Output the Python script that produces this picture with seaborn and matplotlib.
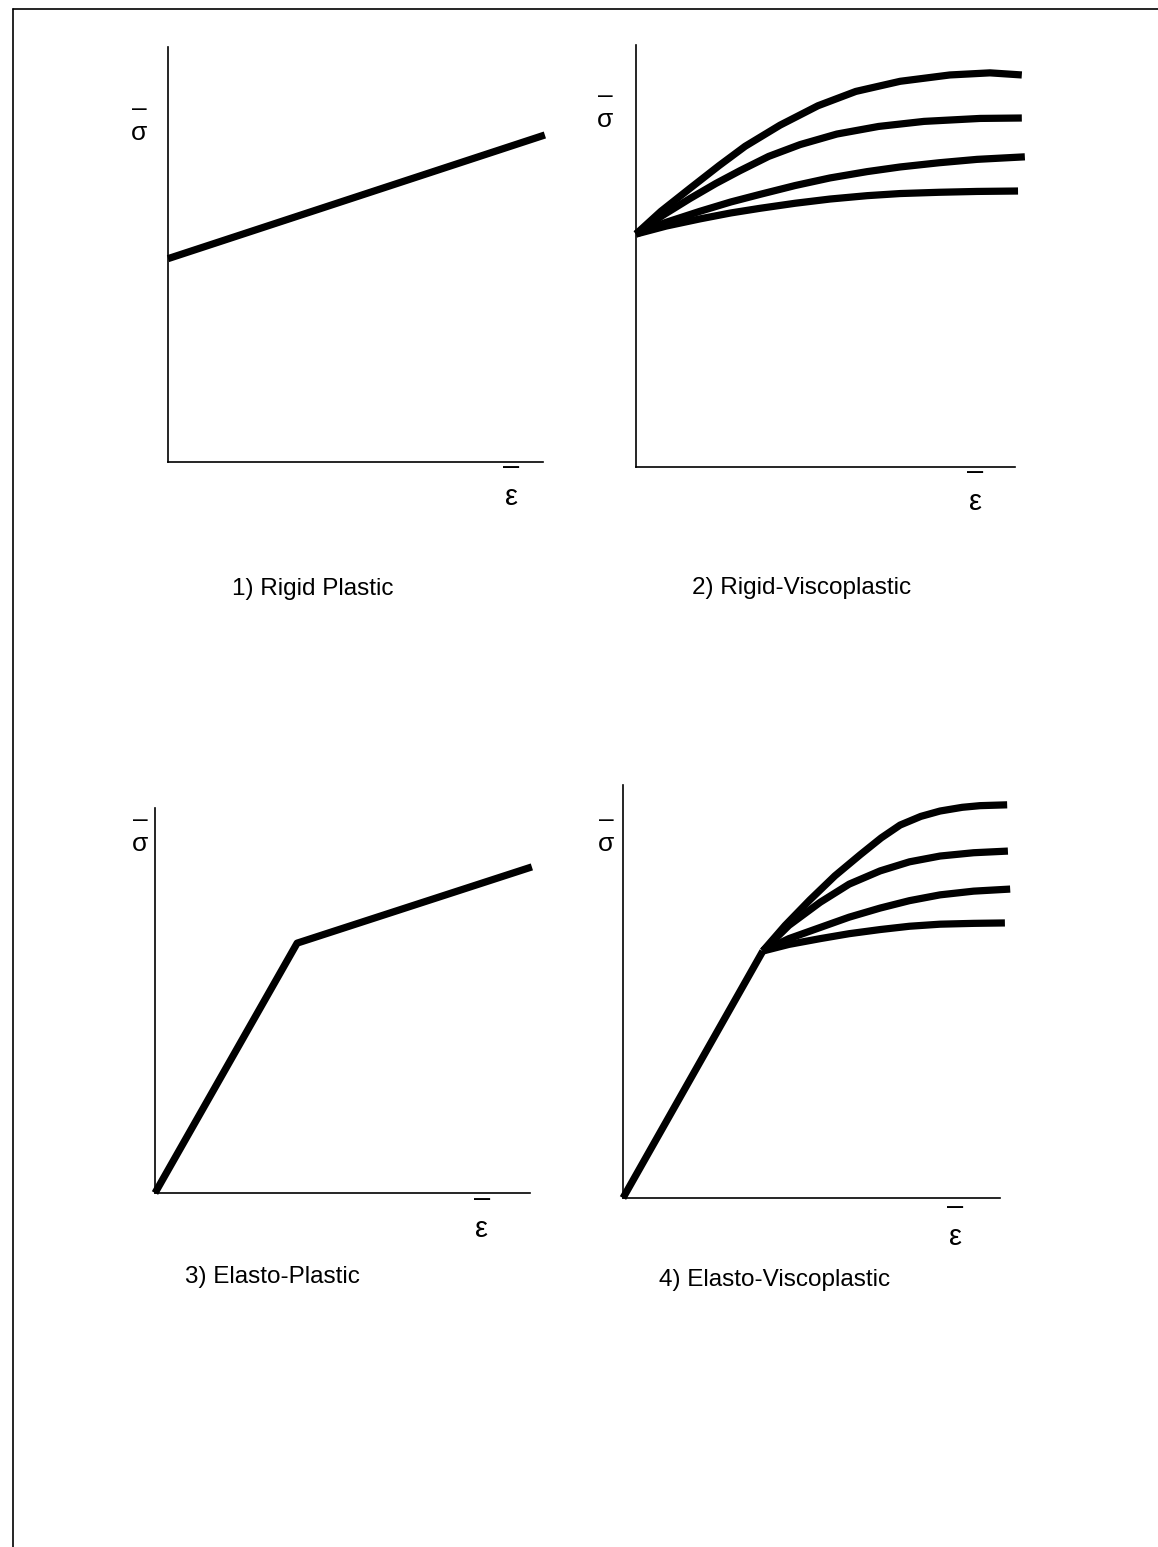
import numpy as np
import pandas as pd
import matplotlib
matplotlib.use("Agg")
import matplotlib.pyplot as plt
from matplotlib.lines import Line2D
import seaborn as sns

# ---- data (normalised strain / stress) ----
# 1) Rigid plastic: linear hardening from the initial yield stress
rp_strain = [0.0, 1.005]
rp_stress = [0.49, 0.788]

# 2) Rigid-viscoplastic: one curve per strain rate (highest rate first)
rvp_strain = [
    [0.0, 0.066, 0.142, 0.219, 0.288, 0.380, 0.480, 0.580, 0.697, 0.828, 0.934, 1.018],
    [0.0, 0.070, 0.142, 0.211, 0.274, 0.350, 0.433, 0.530, 0.640, 0.760, 0.908, 1.018],
    [0.0, 0.080, 0.169, 0.250, 0.327, 0.420, 0.512, 0.610, 0.697, 0.800, 0.900, 1.026],
    [0.0, 0.080, 0.169, 0.250, 0.327, 0.420, 0.512, 0.610, 0.697, 0.800, 0.900, 1.008],
]
rvp_stress = [
    [0.552, 0.606, 0.660, 0.714, 0.760, 0.810, 0.856, 0.890, 0.914, 0.929, 0.934, 0.929],
    [0.552, 0.596, 0.636, 0.672, 0.702, 0.736, 0.764, 0.789, 0.807, 0.819, 0.826, 0.827],
    [0.552, 0.580, 0.606, 0.628, 0.646, 0.667, 0.685, 0.700, 0.711, 0.721, 0.729, 0.735],
    [0.552, 0.571, 0.588, 0.602, 0.613, 0.625, 0.635, 0.643, 0.648, 0.651, 0.653, 0.654],
]

# 3) Elasto-plastic: elastic branch, then linear hardening
ep_strain = [0.0, 0.379, 1.005]
ep_stress = [0.0, 0.649, 0.847]

# 4) Elasto-viscoplastic: shared elastic branch, rate-dependent plastic curves
evp_elastic_strain = [0.0, 0.371]
evp_elastic_stress = [0.0, 0.598]
evp_strain = [
    [0.371, 0.430, 0.496, 0.562, 0.629, 0.685, 0.735, 0.790, 0.841, 0.900, 0.947, 1.019],
    [0.371, 0.440, 0.523, 0.600, 0.682, 0.760, 0.841, 0.930, 1.021],
    [0.371, 0.440, 0.523, 0.600, 0.682, 0.760, 0.841, 0.930, 1.027],
    [0.371, 0.440, 0.523, 0.600, 0.682, 0.760, 0.841, 0.930, 1.013],
]
evp_stress = [
    [0.598, 0.660, 0.722, 0.780, 0.831, 0.872, 0.903, 0.924, 0.937, 0.946, 0.950, 0.952],
    [0.598, 0.660, 0.716, 0.760, 0.792, 0.814, 0.828, 0.836, 0.840],
    [0.598, 0.628, 0.655, 0.680, 0.702, 0.720, 0.734, 0.743, 0.748],
    [0.598, 0.614, 0.628, 0.640, 0.650, 0.658, 0.663, 0.665, 0.666],
]
rate_names = ["rate 4", "rate 3", "rate 2", "rate 1"]

panel_titles = ["1) Rigid Plastic", "2) Rigid-Viscoplastic",
                "3) Elasto-Plastic", "4) Elasto-Viscoplastic"]
stress_label = "–\nσ"
strain_label = "–\nε"

# ---- figure ----
sns.set_style("white")
plt.rcParams["font.family"] = ["Liberation Sans", "DejaVu Sans"]
plt.rcParams["text.color"] = "black"

W, H = 1158, 1547
fig = plt.figure(figsize=(W / 100, H / 100), dpi=100)
fig.patch.set_facecolor("white")

LW = 5.2
LINE_KW = dict(color="black", linewidth=LW, estimator=None, sort=False,
               solid_capstyle="butt", solid_joinstyle="round", clip_on=False)


def fx(x):
    return x / W


def fy(y):
    return 1 - y / H


def make_axes(left, top, right, bottom):
    ax = fig.add_axes([fx(left), fy(bottom), (right - left) / W, (bottom - top) / H])
    ax.set_xlim(0, 1)
    ax.set_ylim(0, 1)
    ax.set_xticks([])
    ax.set_yticks([])
    for side in ["top", "right"]:
        ax.spines[side].set_visible(False)
    for side in ["left", "bottom"]:
        ax.spines[side].set_color("black")
        ax.spines[side].set_linewidth(1.2)
    return ax


def rate_frame(strains, stresses):
    rows = []
    for name, xs, ys in zip(rate_names, strains, stresses):
        for x, y in zip(xs, ys):
            rows.append({"strain": x, "stress": y, "rate": name})
    return pd.DataFrame(rows)


def axis_symbols(sig_xy, eps_xy):
    fig.text(fx(sig_xy[0]), fy(sig_xy[1]), stress_label, fontsize=19,
             ha="center", va="center", linespacing=0.95, color="black")
    fig.text(fx(eps_xy[0]), fy(eps_xy[1]), strain_label, fontsize=21,
             ha="center", va="center", linespacing=1.05, color="black")


def title(x, y, s):
    fig.text(fx(x), fy(y), s, fontsize=17.5, ha="center", va="center", color="black")


# panel 1
ax1 = make_axes(168, 47, 543, 462)
sns.lineplot(x=rp_strain, y=rp_stress, ax=ax1, **LINE_KW)
axis_symbols((139, 121), (511, 482))
title(313, 589, panel_titles[0])

# panel 2
ax2 = make_axes(636, 45, 1015, 467)
df2 = rate_frame(rvp_strain, rvp_stress)
sns.lineplot(data=df2, x="strain", y="stress", hue="rate", units="rate",
             palette=["black"] * 4, legend=False, ax=ax2, **LINE_KW)
axis_symbols((605, 108), (975, 487))
title(802, 588, panel_titles[1])

# panel 3
ax3 = make_axes(155, 808, 530, 1193)
sns.lineplot(x=ep_strain, y=ep_stress, ax=ax3, **LINE_KW)
axis_symbols((140, 832), (482, 1214))
title(272, 1277, panel_titles[2])

# panel 4
ax4 = make_axes(623, 785, 1000, 1198)
sns.lineplot(x=evp_elastic_strain, y=evp_elastic_stress, ax=ax4, **LINE_KW)
df4 = rate_frame(evp_strain, evp_stress)
sns.lineplot(data=df4, x="strain", y="stress", hue="rate", units="rate",
             palette=["black"] * 4, legend=False, ax=ax4, **LINE_KW)
axis_symbols((606, 832), (955, 1222))
title(775, 1280, panel_titles[3])

for ax in (ax1, ax2, ax3, ax4):
    ax.set_xlabel("")
    ax.set_ylabel("")

# page frame (top and left edges)
fig.add_artist(Line2D([fx(13), fx(W)], [fy(9), fy(9)], color="black", lw=1.2))
fig.add_artist(Line2D([fx(13), fx(13)], [fy(9), fy(H)], color="black", lw=1.2))

fig.savefig("out.png", dpi=100, facecolor="white")
